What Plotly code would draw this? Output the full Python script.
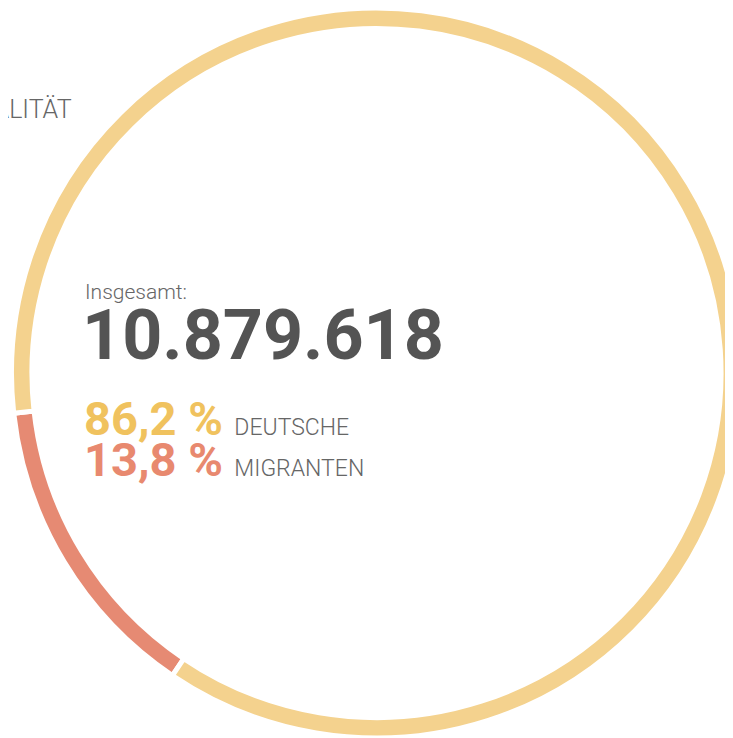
import plotly.graph_objects as go

# data
groups = ["Migranten", "Deutsche"]
shares = [13.8, 86.2]
total = 10879618
title_text = "NATIONALITÄT"

ring_colors = ["#E68A73", "#F4D28E"]
text_colors = ["#E8896F", "#F0C25E"]


def pct(v):
    return f"{v:.1f}".replace(".", ",") + " %"


# the page puts the plot 8px in from the top-left corner; the figure is
# made larger than the window so the ring gets cut off like the original
OFF = 8
W, H = 760, 760


def px(x):
    return (x - OFF) / W


def py(y):
    return 1 - (y - OFF) / H


fig = go.Figure(go.Pie(
    labels=groups,
    values=shares,
    sort=False,
    direction="clockwise",
    rotation=214,
    hole=0.944,
    textinfo="none",
    hoverinfo="label+percent",
    marker=dict(colors=ring_colors, line=dict(color="white", width=5)),
    domain=dict(x=[3.5 / W, 733.5 / W], y=[1 - 730 / H, 1]),
    showlegend=False,
))

base_font = dict(family="Roboto, Arial, sans-serif", weight=300)

annotations = [
    dict(text=title_text, x=px(74), y=py(110), xanchor="right", yanchor="middle",
         showarrow=False, font=dict(size=25, color="#666666", **base_font)),
    dict(text="Insgesamt:", x=px(83), y=py(292), xanchor="left", yanchor="middle",
         showarrow=False, font=dict(size=21, color="#666666", **base_font)),
    dict(text="<b>" + f"{total:,}".replace(",", ".") + "</b>", x=px(80), y=py(335),
         xanchor="left", yanchor="middle", showarrow=False,
         font=dict(size=70, color="#545454", **base_font)),
]

row_y = [459, 418]
for g, s, c, yy in zip(groups, shares, text_colors, row_y):
    annotations.append(dict(
        text=f"<b>{pct(s)}</b> <span style='font-size:23px;color:#666666'>{g.upper()}</span>",
        x=px(82), y=py(yy), xanchor="left", yanchor="middle", showarrow=False,
        font=dict(size=47, color=c, **base_font),
    ))

fig.update_layout(
    width=W, height=H,
    margin=dict(l=0, r=0, t=0, b=0),
    paper_bgcolor="white",
    plot_bgcolor="white",
    annotations=annotations,
)

fig.write_html("out.html")
